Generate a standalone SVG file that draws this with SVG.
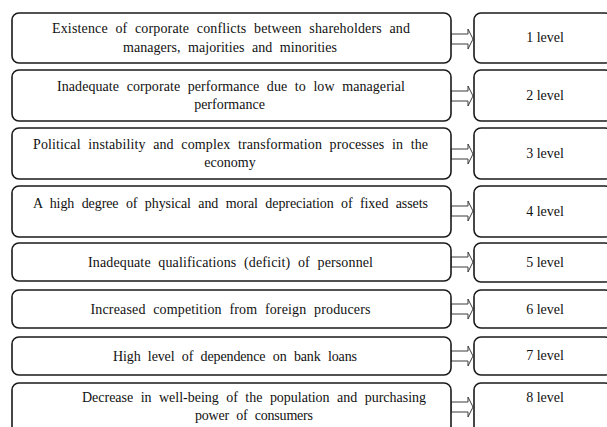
<svg xmlns="http://www.w3.org/2000/svg" width="607" height="427" viewBox="0 0 607 427">
  <style>
    .box { fill: #ffffff; stroke: #1a1a1a; stroke-width: 1.6; }
    .t { font-family: "Liberation Serif", "Times New Roman", serif; font-size: 14px; fill: #111; text-anchor: middle; word-spacing: 4px; }
    .lv { font-family: "Liberation Serif", "Times New Roman", serif; font-size: 14px; fill: #111; text-anchor: middle; }
    .arr { fill: #ffffff; stroke: #3a3a3a; stroke-width: 1; stroke-linejoin: miter; }
  </style>
  <rect x="0" y="0" width="607" height="427" fill="#ffffff"/>

  <g id="connectors">
    <polygon class="arr" points="451,34 468,34 468,29 473,39 468,49 468,44 451,44"/>
    <polygon class="arr" points="451,91 468,91 468,86 473,96 468,106 468,101 451,101"/>
    <polygon class="arr" points="451,149 468,149 468,144 473,154 468,164 468,159 451,159"/>
    <polygon class="arr" points="451,206 468,206 468,201 473,211 468,221 468,216 451,216"/>
    <polygon class="arr" points="451,257 468,257 468,252 473,262 468,272 468,267 451,267"/>
    <polygon class="arr" points="451,304 468,304 468,299 473,309 468,319 468,314 451,314"/>
    <polygon class="arr" points="451,351 468,351 468,346 473,356 468,366 468,361 451,361"/>
    <polygon class="arr" points="451,402 468,402 468,397 473,407 468,417 468,412 451,412"/>
  </g>

  <g id="factor1">
    <rect class="box" x="12" y="13" width="439" height="50" rx="7"/>
    <text class="t" x="231" y="33.3" textLength="358" lengthAdjust="spacing">Existence of corporate conflicts between shareholders and</text>
    <text class="t" x="230" y="51.8" textLength="214" lengthAdjust="spacing">managers, majorities and minorities</text>
  </g>
  <g id="factor2">
    <rect class="box" x="12" y="70" width="439" height="51" rx="7"/>
    <text class="t" x="231" y="90.5" textLength="348" lengthAdjust="spacing">Inadequate corporate performance due to low managerial</text>
    <text class="t" x="229.5" y="109">performance</text>
  </g>
  <g id="factor3">
    <rect class="box" x="12" y="128" width="439" height="51" rx="7"/>
    <text class="t" x="230.5" y="148.5" textLength="395" lengthAdjust="spacing">Political instability and complex transformation processes in the</text>
    <text class="t" x="230" y="167">economy</text>
  </g>
  <g id="factor4">
    <rect class="box" x="12" y="186" width="439" height="51" rx="7"/>
    <text class="t" x="230.5" y="208" textLength="395" lengthAdjust="spacing">A high degree of physical and moral depreciation of fixed assets</text>
  </g>
  <g id="factor5">
    <rect class="box" x="12" y="243" width="439" height="38" rx="7"/>
    <text class="t" x="230.5" y="266.5" textLength="285" lengthAdjust="spacing">Inadequate qualifications (deficit) of personnel</text>
  </g>
  <g id="factor6">
    <rect class="box" x="12" y="290" width="439" height="38" rx="7"/>
    <text class="t" x="230.5" y="313.5" textLength="280" lengthAdjust="spacing">Increased competition from foreign producers</text>
  </g>
  <g id="factor7">
    <rect class="box" x="12" y="337" width="439" height="38" rx="7"/>
    <text class="t" x="235" y="360.5" textLength="244" lengthAdjust="spacing">High level of dependence on bank loans</text>
  </g>
  <g id="factor8">
    <rect class="box" x="12" y="383" width="439" height="50" rx="7"/>
    <text class="t" x="254" y="402" textLength="344" lengthAdjust="spacing">Decrease in well-being of the population and purchasing</text>
    <text class="t" x="254" y="420" textLength="118" lengthAdjust="spacing">power of consumers</text>
  </g>

  <g id="level1">
    <rect class="box" x="474" y="13" width="138" height="50" rx="7"/>
    <text class="lv" x="545" y="42">1 level</text>
  </g>
  <g id="level2">
    <rect class="box" x="474" y="70" width="138" height="51" rx="7"/>
    <text class="lv" x="545" y="99.5">2 level</text>
  </g>
  <g id="level3">
    <rect class="box" x="474" y="128" width="138" height="51" rx="7"/>
    <text class="lv" x="545" y="157.5">3 level</text>
  </g>
  <g id="level4">
    <rect class="box" x="474" y="186" width="138" height="51" rx="7"/>
    <text class="lv" x="545" y="215.5">4 level</text>
  </g>
  <g id="level5">
    <rect class="box" x="474" y="243" width="138" height="39" rx="7"/>
    <text class="lv" x="545" y="266.5">5 level</text>
  </g>
  <g id="level6">
    <rect class="box" x="474" y="290" width="138" height="38" rx="7"/>
    <text class="lv" x="545" y="313.5">6 level</text>
  </g>
  <g id="level7">
    <rect class="box" x="474" y="337" width="138" height="38" rx="7"/>
    <text class="lv" x="545" y="360">7 level</text>
  </g>
  <g id="level8">
    <rect class="box" x="474" y="383" width="138" height="50" rx="7"/>
    <text class="lv" x="545" y="402">8 level</text>
  </g>
</svg>
